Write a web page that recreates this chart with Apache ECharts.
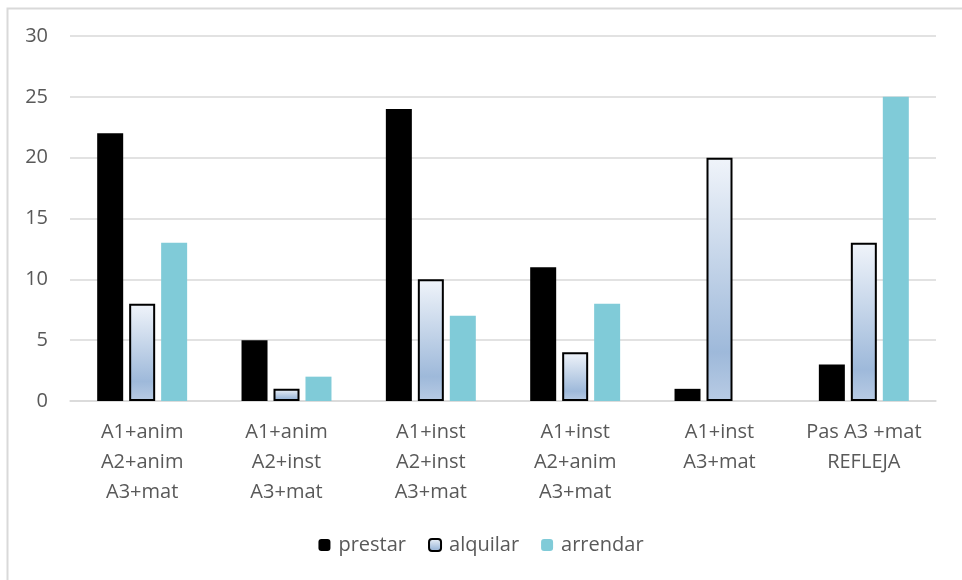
<!DOCTYPE html>
<html>
<head>
<meta charset="utf-8">
<script src="https://cdn.jsdelivr.net/npm/echarts@6/dist/echarts.min.js"></script>
<style>
  html, body { margin: 0; padding: 0; background: #fff; }
  #chart { width: 962px; height: 580px; }
</style>
</head>
<body>
<div id="chart"></div>
<script>
const categories = [
  'A1+anim\nA2+anim\nA3+mat',
  'A1+anim\nA2+inst\nA3+mat',
  'A1+inst\nA2+inst\nA3+mat',
  'A1+inst\nA2+anim\nA3+mat',
  'A1+inst\nA3+mat',
  'Pas A3 +mat\nREFLEJA'
]
const prestar = [22, 5, 24, 11, 1, 3]
const alquilar = [8, 1, 10, 4, 20, 13]
const arrendar = [13, 2, 7, 8, 0, 25]

const font = '"Open Sans", sans-serif'
const chart = echarts.init(document.getElementById('chart'))

const option = {
  animation: false,
  textStyle: { fontFamily: font },
  graphic: [{
    type: 'rect',
    left: 5, top: 6,
    shape: { width: 1000, height: 600 },
    style: { fill: 'none', stroke: '#d9d9d9', lineWidth: 2 },
    silent: true
  }],
  legend: {
    bottom: 20,
    left: 'center',
    itemWidth: 12,
    itemHeight: 12,
    itemGap: 22,
    textStyle: { fontSize: 20, color: '#595959', fontFamily: font, padding: [0, 0, 0, 3] },
    data: ['prestar', 'alquilar', 'arrendar']
  },
  grid: { left: 70, right: 26, top: 36, bottom: 179 },
  xAxis: {
    type: 'category',
    data: categories,
    axisTick: { show: false },
    axisLine: { lineStyle: { color: '#d9d9d9', width: 1.5 } },
    axisLabel: {
      color: '#595959', fontSize: 20, lineHeight: 30, margin: 16,
      fontFamily: font, interval: 0
    }
  },
  yAxis: {
    type: 'value',
    min: 0, max: 30, interval: 5,
    axisLine: { show: false },
    axisTick: { show: false },
    axisLabel: { color: '#595959', fontSize: 20, margin: 22, fontFamily: font },
    splitLine: { lineStyle: { color: '#d9d9d9', width: 1.5 } }
  },
  series: [
    {
      name: 'prestar', type: 'bar', data: prestar,
      barWidth: 26, barGap: '23%',
      itemStyle: { color: '#000000' }
    },
    {
      name: 'alquilar', type: 'bar', data: alquilar,
      barWidth: 26,
      itemStyle: {
        color: new echarts.graphic.LinearGradient(0, 0, 0, 1, [
          { offset: 0, color: '#f0f4fa' },
          { offset: 0.8, color: '#9eb9da' },
          { offset: 1, color: '#b8cbe4' }
        ]),
        borderColor: '#000000',
        borderWidth: 2
      }
    },
    {
      name: 'arrendar', type: 'bar', data: arrendar,
      barWidth: 26,
      itemStyle: { color: '#80cbd8' }
    }
  ]
}

chart.setOption(option)
</script>
</body>
</html>
